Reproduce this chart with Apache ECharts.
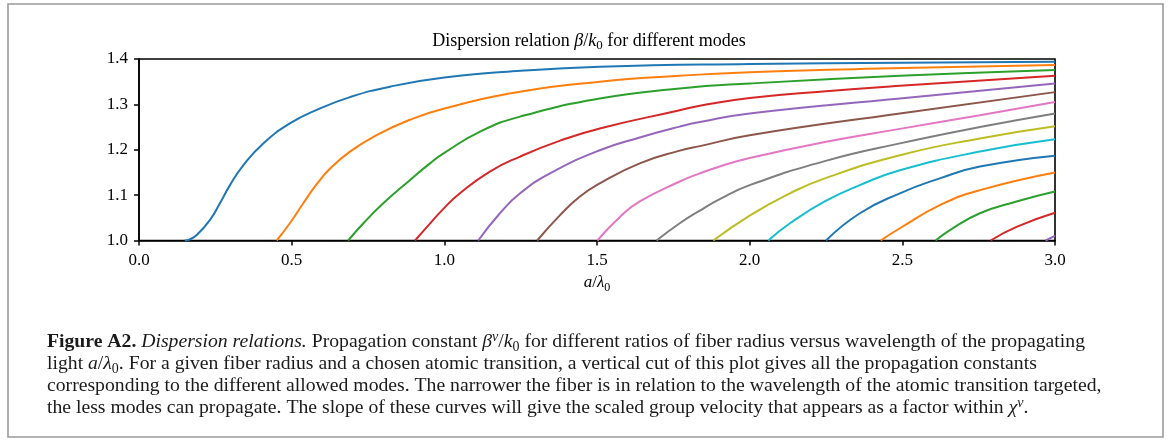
<!DOCTYPE html>
<html>
<head>
<meta charset="utf-8">
<script src="https://cdn.jsdelivr.net/npm/echarts@6/dist/echarts.min.js"></script>
<style>
  html, body { margin: 0; padding: 0; background: #fff; }
  #chart { width: 1171px; height: 441px; }
</style>
</head>
<body>
<div id="chart"></div>
<script>
// ---- data: [a/lambda0, beta/k0] ----
const mode01 = [[0.150,1.000],[0.165,1.002],[0.189,1.012],[0.232,1.045],[0.265,1.082],[0.298,1.122],[0.342,1.166],[0.407,1.214],[0.494,1.258],[0.582,1.288],[0.691,1.316],[0.822,1.339],[1.000,1.359],[1.250,1.374],[1.509,1.383],[2.000,1.389],[2.500,1.392],[3.000,1.394]];
const mode02 = [[0.451,1.000],[0.494,1.038],[0.538,1.082],[0.582,1.124],[0.625,1.158],[0.691,1.196],[0.778,1.232],[0.887,1.266],[1.000,1.291],[1.248,1.328],[1.509,1.350],[1.771,1.363],[2.000,1.371],[2.500,1.380],[3.000,1.387]];
const mode03 = [[0.685,1.000],[0.735,1.038],[0.800,1.082],[0.887,1.133],[0.953,1.170],[1.000,1.193],[1.117,1.240],[1.248,1.273],[1.509,1.313],[1.771,1.335],[2.000,1.346],[2.492,1.363],[3.000,1.376]];
const mode04 = [[0.904,1.000],[0.950,1.035],[1.000,1.072],[1.051,1.104],[1.149,1.152],[1.248,1.185],[1.379,1.220],[1.509,1.247],[1.771,1.287],[1.837,1.297],[2.000,1.314],[2.250,1.329],[2.492,1.341],[3.000,1.363]];
const mode05 = [[1.111,1.000],[1.182,1.060],[1.248,1.104],[1.346,1.148],[1.509,1.199],[1.640,1.227],[1.771,1.251],[1.837,1.261],[2.000,1.280],[2.492,1.313],[3.000,1.346]];
const mode06 = [[1.304,1.000],[1.379,1.056],[1.444,1.097],[1.509,1.126],[1.640,1.170],[1.771,1.198],[1.837,1.208],[2.000,1.232],[2.492,1.280],[3.000,1.327]];
const mode07 = [[1.501,1.000],[1.575,1.052],[1.640,1.086],[1.771,1.130],[1.837,1.148],[1.902,1.163],[2.000,1.182],[2.246,1.217],[2.492,1.246],[2.754,1.276],[3.000,1.305]];
const mode08 = [[1.695,1.000],[1.771,1.038],[1.837,1.066],[1.902,1.091],[2.000,1.122],[2.246,1.175],[2.492,1.214],[2.754,1.250],[3.000,1.280]];
const mode09 = [[1.881,1.000],[2.000,1.055],[2.132,1.104],[2.246,1.137],[2.492,1.188],[2.754,1.225],[3.000,1.252]];
const mode10 = [[2.061,1.000],[2.132,1.038],[2.246,1.086],[2.361,1.122],[2.492,1.155],[2.754,1.196],[3.000,1.223]];
const mode11 = [[2.250,1.000],[2.361,1.060],[2.492,1.104],[2.623,1.137],[2.754,1.163],[3.000,1.187]];
const mode12 = [[2.429,1.000],[2.492,1.027],[2.623,1.078],[2.754,1.111],[3.000,1.150]];
const mode13 = [[2.609,1.000],[2.656,1.023],[2.754,1.060],[2.874,1.086],[3.000,1.108]];
const mode14 = [[2.789,1.000],[2.874,1.030],[3.000,1.061]];
const mode15 = [[2.969,1.000],[3.000,1.010]];

const modes = [mode01, mode02, mode03, mode04, mode05, mode06, mode07, mode08, mode09, mode10, mode11, mode12, mode13, mode14, mode15];
const colors = ['#1f77b4','#ff7f0e','#2ca02c','#d62728','#9467bd','#8c564b','#e377c2','#7f7f7f','#bcbd22','#17becf'];

const xTicks = { min: 0, max: 3, interval: 0.5 };
const yTicks = { min: 1.0, max: 1.4, interval: 0.1 };

const titleText = 'Dispersion relation {i|β}/{i|k}{sub|0} for different modes';
const xAxisName = '{i|a}/{i|λ}{sub|0}';
const captionLines = [
  '{b|Figure A2.} {i|Dispersion relations.} Propagation constant {i|β}{sup|ν}/{i|k}{sub|0} for different ratios of fiber radius versus wavelength of the propagating',
  'light {i|a}/{i|λ}{sub|0}. For a given fiber radius and a chosen atomic transition, a vertical cut of this plot gives all the propagation constants',
  'corresponding to the different allowed modes. The narrower the fiber is in relation to the wavelength of the atomic transition targeted,',
  'the less modes can propagate. The slope of these curves will give the scaled group velocity that appears as a factor within {i|χ}{sup|ν}.'
];

// ---- chart ----
const serif = '"Liberation Serif", "DejaVu Serif", serif';
const chart = echarts.init(document.getElementById('chart'), null, { renderer: 'canvas' });

function mathRich(size, color) {
  const c = color || '#000';
  return {
    i: { fontStyle: 'italic', fontSize: size, fontFamily: serif, color: c, lineHeight: size + 4 },
    sub: { fontSize: Math.round(size * 0.7), fontFamily: serif, color: c, verticalAlign: 'bottom', lineHeight: Math.round(size * 0.7) },
    sup: { fontStyle: 'italic', fontSize: Math.round(size * 0.7), fontFamily: serif, color: c, verticalAlign: 'top', lineHeight: Math.round(size * 0.7) },
    b: { fontWeight: 'bold', fontSize: size, fontFamily: serif, color: c, lineHeight: size + 4 }
  };
}

const captionSize = 19.7;
const captionGraphics = captionLines.map((line, k) => ({
  type: 'text',
  left: 47,
  top: 330 + k * 22,
  style: {
    text: line,
    fontSize: captionSize,
    fontFamily: serif,
    fill: '#1a1a1a',
    lineHeight: 24,
    rich: mathRich(captionSize, '#1a1a1a')
  }
}));

const option = {
  animation: false,
  backgroundColor: '#fff',
  title: {
    text: titleText,
    left: 584,
    top: 25,
    textAlign: 'center',
    textStyle: {
      fontSize: 18,
      fontWeight: 'normal',
      fontFamily: serif,
      color: '#000',
      lineHeight: 22,
      rich: mathRich(18)
    }
  },
  grid: {
    left: 139,
    right: 116,
    top: 59,
    bottom: 200.5,
    show: true,
    borderColor: '#000',
    borderWidth: 1.6,
    containLabel: false
  },
  xAxis: {
    type: 'value',
    min: xTicks.min,
    max: xTicks.max,
    interval: xTicks.interval,
    name: xAxisName,
    nameLocation: 'middle',
    nameGap: 32,
    nameTextStyle: {
      fontSize: 17,
      fontFamily: serif,
      color: '#000',
      lineHeight: 21,
      rich: mathRich(17)
    },
    splitLine: { show: false },
    axisLine: { show: true, onZero: false, lineStyle: { color: '#000', width: 1.6 } },
    axisTick: { show: true, inside: false, length: 5, lineStyle: { color: '#000', width: 1.5 } },
    axisLabel: {
      margin: 12,
      fontSize: 17,
      fontFamily: serif,
      color: '#000',
      formatter: v => v.toFixed(1)
    }
  },
  yAxis: {
    type: 'value',
    min: yTicks.min,
    max: yTicks.max,
    interval: yTicks.interval,
    splitLine: { show: false },
    axisLine: { show: true, onZero: false, lineStyle: { color: '#000', width: 1.6 } },
    axisTick: { show: true, inside: false, length: 5, lineStyle: { color: '#000', width: 1.5 } },
    axisLabel: {
      margin: 11,
      fontSize: 17,
      fontFamily: serif,
      color: '#000',
      formatter: v => v.toFixed(1)
    }
  },
  series: modes.map((d, k) => ({
    type: 'line',
    name: 'mode ' + (k + 1),
    data: d,
    showSymbol: false,
    smooth: 0.5,
    clip: true,
    lineStyle: { color: colors[k % colors.length], width: 2 },
    itemStyle: { color: colors[k % colors.length] },
    emphasis: { disabled: true }
  })),
  graphic: [
    {
      type: 'rect',
      shape: { x: 8, y: 4, width: 1155, height: 433 },
      style: { fill: 'none', stroke: '#9a9a9a', lineWidth: 1.6 },
      z: -1
    }
  ].concat(captionGraphics)
};

chart.setOption(option);
</script>
</body>
</html>
